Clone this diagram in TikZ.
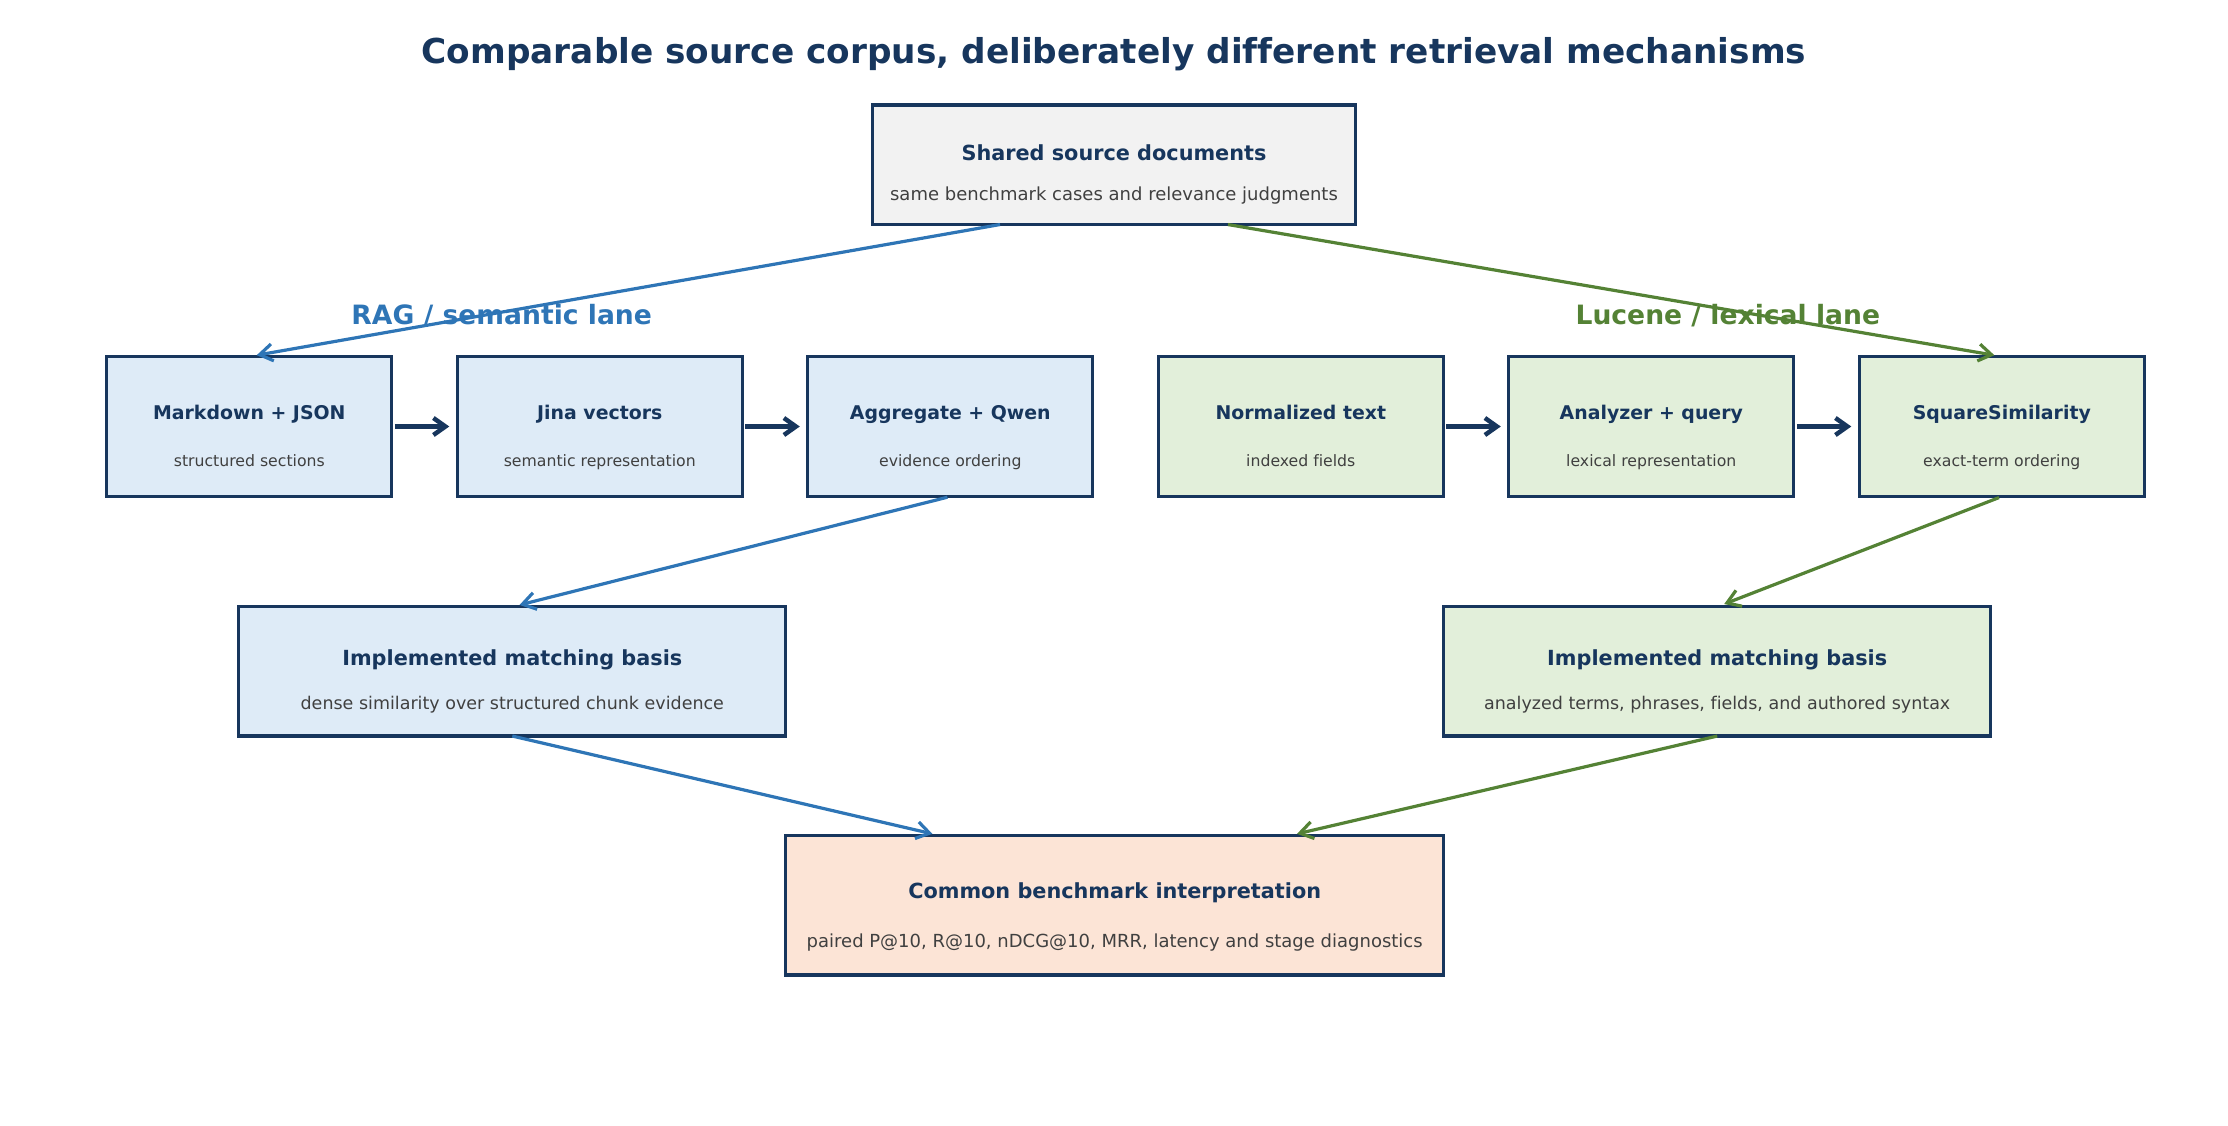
\documentclass[tikz,border=0pt]{standalone}
\usepackage{fontspec}
\setmainfont{DejaVu Sans}[Ligatures=NoCommon]
\usetikzlibrary{arrows.meta,calc}

\definecolor{navy}{HTML}{17365D}
\definecolor{subgray}{HTML}{404040}
\definecolor{laneblue}{HTML}{2E75B6}
\definecolor{lanegreen}{HTML}{548235}
\definecolor{fillblue}{HTML}{DEEBF7}
\definecolor{fillgreen}{HTML}{E2EFDA}
\definecolor{fillgray}{HTML}{F2F2F2}
\definecolor{fillpeach}{HTML}{FCE4D6}

\begin{document}
\begin{tikzpicture}[x=1pt,y=-1pt,
  box/.style={draw=navy, line width=3.3pt, rectangle, inner sep=0pt, outer sep=0pt},
  rowbox/.style={box, minimum width=285pt, minimum height=140pt},
  bigttl/.style={font=\fontsize{20.8}{24}\selectfont\bfseries, text=navy, anchor=base, inner sep=0pt},
  rowttl/.style={font=\fontsize{18.9}{22}\selectfont\bfseries, text=navy, anchor=base, inner sep=0pt},
  bigsub/.style={font=\fontsize{18.0}{20}\selectfont, text=subgray, anchor=base, inner sep=0pt},
  midsub/.style={font=\fontsize{17.5}{20}\selectfont, text=subgray, anchor=base, inner sep=0pt},
  rowsub/.style={font=\fontsize{15.7}{18}\selectfont, text=subgray, anchor=base, inner sep=0pt},
  lanelbl/.style={font=\fontsize{26.6}{30}\selectfont\bfseries, anchor=base, inner sep=0pt},
  tipstyle/.style={-{Straight Barb[length=13pt,width=17pt,line width=3.2pt]}},
  flow/.style={draw=navy, line width=4.5pt, -{Straight Barb[length=12pt,width=17pt]}, shorten <=3pt, shorten >=8pt},
  bluelink/.style={draw=laneblue, line width=3.2pt, tipstyle, shorten >=7.5pt},
  greenlink/.style={draw=lanegreen, line width=3.2pt, tipstyle, shorten >=7.5pt}
]
\useasboundingbox (0,0) rectangle (2228,1126);

% heading
\node[font=\fontsize{34.3}{38}\selectfont\bfseries, text=navy, anchor=base, inner sep=0pt] (head) at (1114,63.3)
  {Comparable source corpus, deliberately different retrieval mechanisms};

% shared source
\node[box, fill=fillgray, minimum width=483pt, minimum height=119.5pt] (shared) at (1114,164.8) {};
\node[bigttl] (sharedT) at ($(shared.center)+(0,-4)$) {Shared source documents};
\node[bigsub] (sharedS) at ($(shared.center)+(0,36)$) {same benchmark cases and relevance judgments};

% lane labels
\node[lanelbl, text=laneblue] (ragL) at (501.7,324) {RAG / semantic lane};
\node[lanelbl, text=lanegreen] (lucL) at (1727.8,324) {Lucene / lexical lane};

% pipeline row
\node[rowbox, fill=fillblue]  (md)   at (249.3,426.5) {};
\node[rowbox, fill=fillblue]  (jina) at (599.8,426.5) {};
\node[rowbox, fill=fillblue]  (agg)  at (950.3,426.5) {};
\node[rowbox, fill=fillgreen] (norm) at (1300.8,426.5) {};
\node[rowbox, fill=fillgreen] (ana)  at (1651.3,426.5) {};
\node[rowbox, fill=fillgreen] (sq)   at (2001.8,426.5) {};

\foreach \n/\t/\s in {md/Markdown + JSON/structured sections,
                      jina/Jina vectors/semantic representation,
                      agg/Aggregate + Qwen/evidence ordering,
                      norm/Normalized text/indexed fields,
                      ana/Analyzer + query/lexical representation,
                      sq/SquareSimilarity/exact-term ordering}{
  \node[rowttl] (\n T) at ($(\n.center)+(0,-6.7)$) {\t};
  \node[rowsub] (\n S) at ($(\n.center)+(0,40)$) {\s};
}

% matching basis
\node[box, fill=fillblue, minimum width=547pt, minimum height=129.3pt] (implL) at (512.3,671.4) {};
\node[bigttl] (implLT) at ($(implL.center)+(0,-6)$) {Implemented matching basis};
\node[midsub] (implLS) at ($(implL.center)+(0,37.6)$) {dense similarity over structured chunk evidence};

\node[box, fill=fillgreen, minimum width=547pt, minimum height=129.3pt] (implR) at (1717.2,671.4) {};
\node[bigttl] (implRT) at ($(implR.center)+(0,-6)$) {Implemented matching basis};
\node[midsub] (implRS) at ($(implR.center)+(0,37.6)$) {analyzed terms, phrases, fields, and authored syntax};

% common interpretation
\node[box, fill=fillpeach, minimum width=658pt, minimum height=139.3pt] (common) at (1114.7,905.2) {};
\node[bigttl] (commonT) at ($(common.center)+(0,-6.5)$) {Common benchmark interpretation};
\node[bigsub] (commonS) at ($(common.center)+(0,42)$) {paired P@10, R@10, nDCG@10, MRR, latency and stage diagnostics};

% row arrows
\draw[flow] (md) -- (jina);
\draw[flow] (jina) -- (agg);
\draw[flow] (norm) -- (ana);
\draw[flow] (ana) -- (sq);

% lane connectors
\draw[bluelink] ($(shared.south)+(-114,0)$) -- (md.north);
\draw[greenlink] ($(shared.south)+(114,0)$) -- (sq.north);
\draw[bluelink, shorten <=3pt] (agg.south) -- (implL.north);
\draw[greenlink, shorten <=3pt] (sq.south) -- (implR.north);
\draw[bluelink] (implL.south) -- ($(common.north)+(-175,0)$);
\draw[greenlink] (implR.south) -- ($(common.north)+(175,0)$);
\end{tikzpicture}
\end{document}
